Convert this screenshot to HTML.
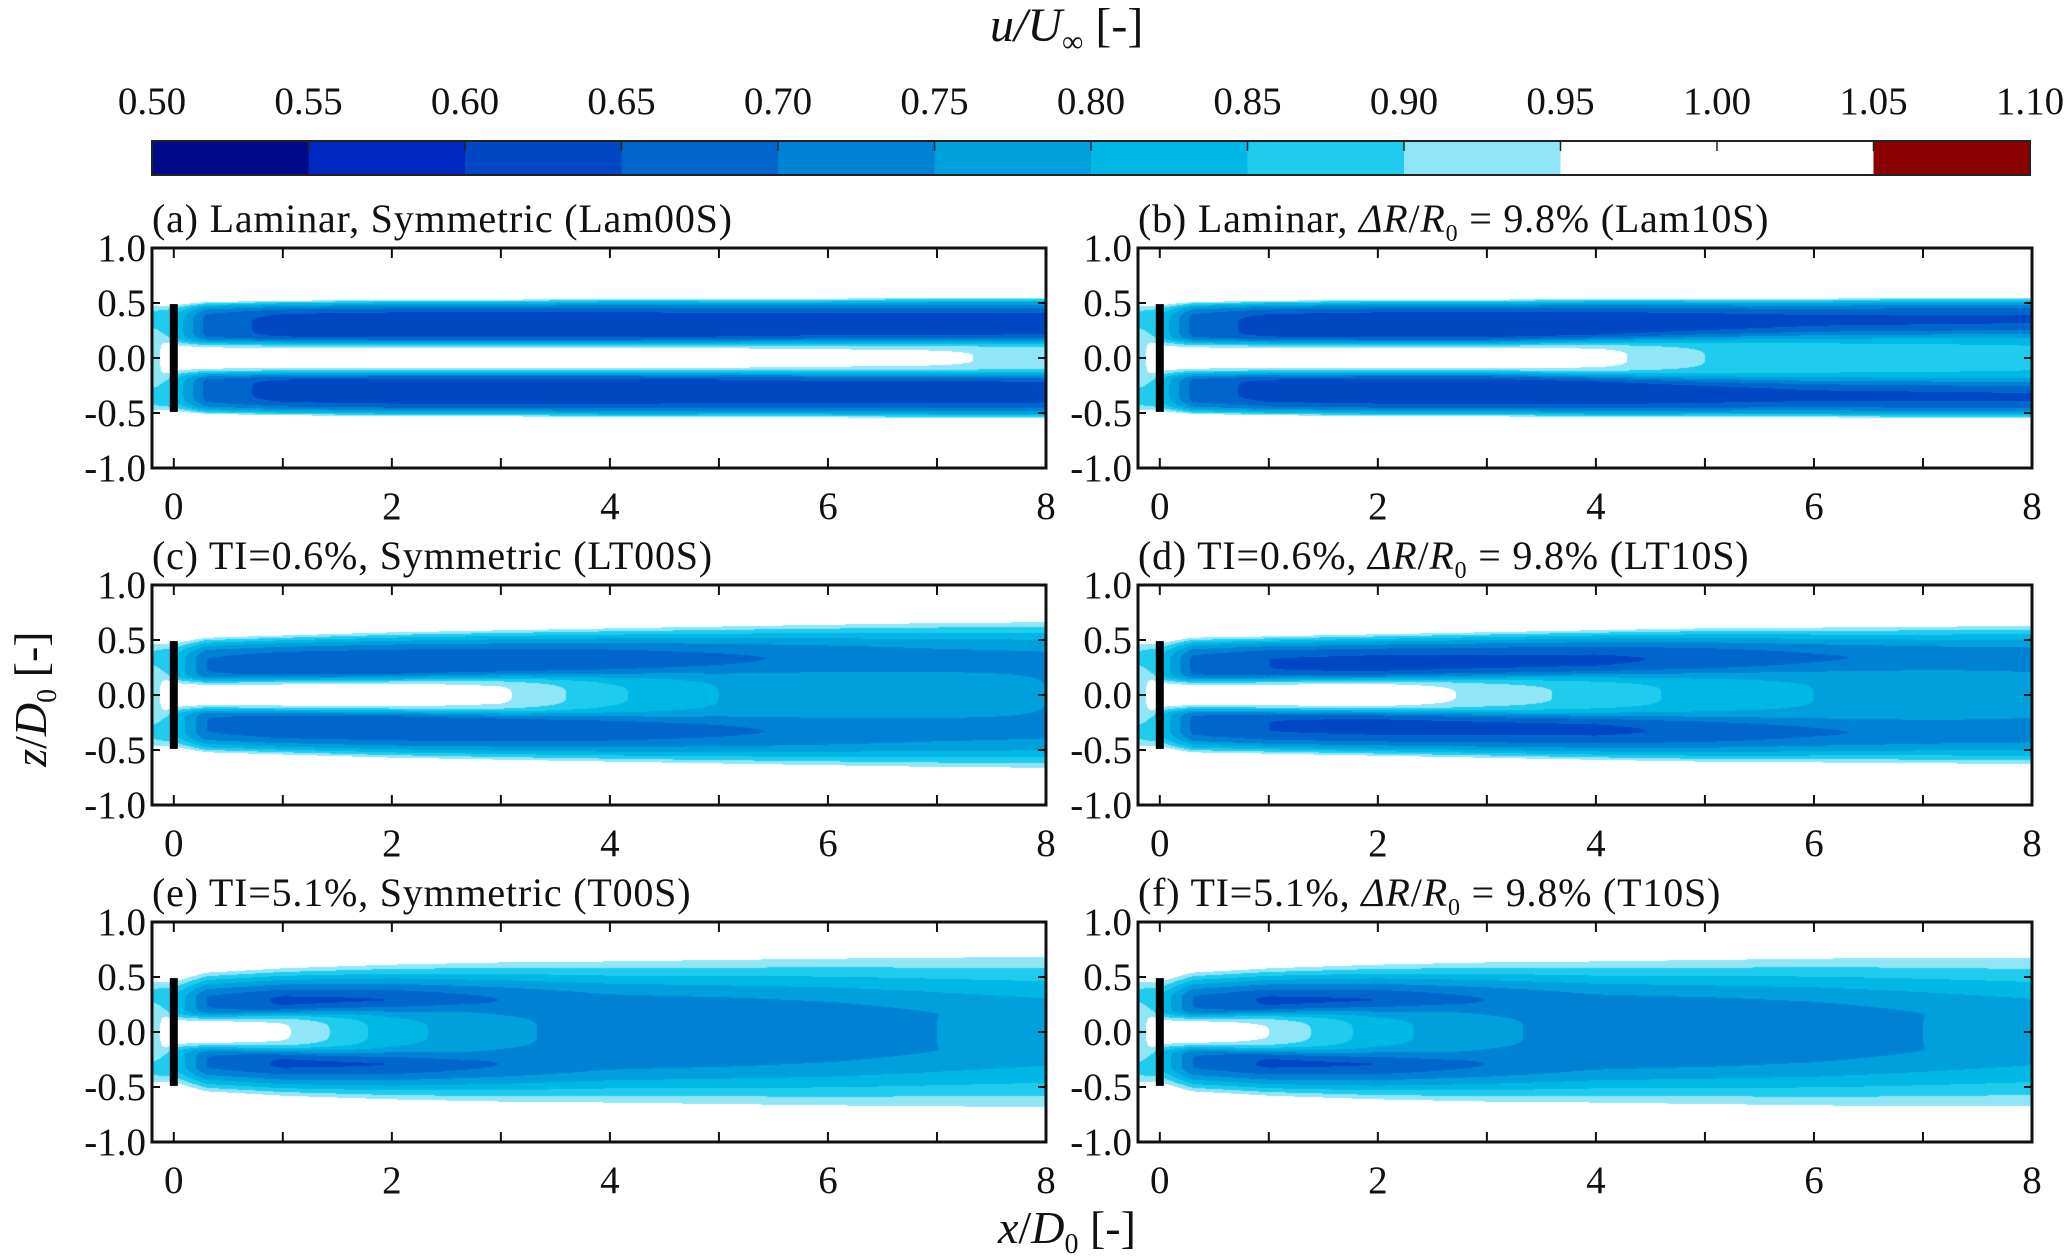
<!DOCTYPE html>
<html><head><meta charset="utf-8"><style>
body{margin:0;background:#fff;width:2067px;height:1259px;position:relative;overflow:hidden;font-family:"Liberation Serif",serif;color:#111}
.t{position:absolute;white-space:nowrap;font-size:39px;line-height:1}
.tt{font-size:40px;letter-spacing:0.8px}
canvas{position:absolute}
svg{position:absolute;left:0;top:0}
</style></head><body>
<div class="t" style="left:990px;top:2px;font-size:48px;font-style:italic"><span style="text-decoration:overline">u</span>/U<sub style="font-size:30px;font-style:normal">∞</sub> <span style="font-style:normal">[-]</span></div>
<div id="root"></div>
<div class="t" style="left:998px;top:1205px;font-size:46px"><i>x</i>/<i>D</i><sub style="font-size:28px">0</sub> [-]</div>
<div class="t" style="left:-50px;top:672px;font-size:46px;transform:rotate(-90deg);transform-origin:center;width:170px;text-align:center"><i>z</i>/<i>D</i><sub style="font-size:28px">0</sub> [-]</div>
<svg id="ov" width="2067" height="1259"></svg>
<script>
const levels=[0.50,0.55,0.60,0.65,0.70,0.75,0.80,0.85,0.90,0.95,1.00,1.05,1.10];
const levelLabels=["0.50","0.55","0.60","0.65","0.70","0.75","0.80","0.85","0.90","0.95","1.00","1.05","1.10"];
const bandColors=["#000a8a","#0028c0","#0047c4","#0066cc","#0082d4","#00a0dc","#00b8e6","#20ccee","#90e6f6","#ffffff","#ffffff","#8b0000"];
const xStations=[-0.2,0,0.3,1,2,3,4,5,6,7,8];
const xTicks=[0,2,4,6,8];
const yTicks=[-1.0,-0.5,0.0,0.5,1.0];
const yTickLabels=["-1.0","-0.5","0.0","0.5","1.0"];
const titles=["(a) Laminar, Symmetric (Lam00S)","(b) Laminar, <i>ΔR</i>/<i>R</i><sub>0</sub> = 9.8% (Lam10S)","(c) TI=0.6%, Symmetric (LT00S)","(d) TI=0.6%, <i>ΔR</i>/<i>R</i><sub>0</sub> = 9.8% (LT10S)","(e) TI=5.1%, Symmetric (T00S)","(f) TI=5.1%, <i>ΔR</i>/<i>R</i><sub>0</sub> = 9.8% (T10S)"];
const uminA=[0.88,0.85,0.68,0.63,0.62,0.62,0.62,0.63,0.63,0.63,0.63];
const ucA=[0.92,1,1,1,1,1,1,0.99,0.97,0.96,0.93];
const cwA=[0.3,0.15,0.15,0.15,0.15,0.15,0.15,0.15,0.16,0.16,0.17];
const edgeA=[0.5,0.5,0.52,0.53,0.54,0.54,0.55,0.55,0.55,0.56,0.56];
const uminB=[0.88,0.85,0.68,0.63,0.62,0.62,0.62,0.63,0.64,0.64,0.64];
const ucB=[0.92,1,1,1,1,1,0.97,0.9,0.88,0.87,0.86];
const cwB=[0.3,0.15,0.15,0.15,0.15,0.15,0.17,0.2,0.22,0.23,0.24];
const edgeB=[0.5,0.5,0.52,0.53,0.54,0.54,0.55,0.55,0.55,0.56,0.56];
const uminC=[0.88,0.85,0.7,0.67,0.66,0.66,0.67,0.69,0.71,0.73,0.74];
const ucC=[0.92,1,1,1,1,0.96,0.86,0.8,0.78,0.76,0.75];
const cwC=[0.3,0.14,0.14,0.15,0.16,0.18,0.2,0.22,0.24,0.26,0.28];
const edgeC=[0.5,0.5,0.54,0.56,0.59,0.61,0.63,0.65,0.67,0.69,0.7];
const uminD=[0.88,0.85,0.69,0.65,0.64,0.64,0.64,0.66,0.69,0.71,0.72];
const ucD=[0.92,1,1,1,1,0.93,0.88,0.83,0.8,0.78,0.76];
const cwD=[0.3,0.14,0.14,0.15,0.16,0.18,0.2,0.22,0.24,0.26,0.28];
const edgeD=[0.5,0.5,0.54,0.55,0.57,0.59,0.61,0.63,0.64,0.65,0.66];
const uminE=[0.88,0.85,0.7,0.64,0.64,0.67,0.7,0.71,0.72,0.74,0.76];
const ucE=[0.92,1,1,0.96,0.82,0.76,0.73,0.72,0.73,0.75,0.77];
const cwE=[0.3,0.14,0.15,0.18,0.22,0.26,0.3,0.32,0.34,0.36,0.38];
const edgeE=[0.5,0.5,0.57,0.61,0.65,0.68,0.7,0.72,0.74,0.76,0.78];
const uminF=[0.88,0.85,0.7,0.64,0.64,0.67,0.7,0.71,0.72,0.74,0.76];
const ucF=[0.92,1,1,0.95,0.82,0.76,0.73,0.72,0.73,0.75,0.77];
const cwF=[0.3,0.14,0.15,0.18,0.22,0.26,0.3,0.32,0.34,0.36,0.38];
const edgeF=[0.5,0.5,0.57,0.61,0.65,0.68,0.7,0.72,0.74,0.76,0.77];
const ringLam=[0.33,0.32,0.32,0.32,0.32,0.32,0.32,0.32,0.32,0.32,0.32];
const ringTur=[0.35,0.32,0.32,0.3,0.28,0.25,0.22,0.2,0.18,0.16,0.15];
const panels=[
 {umin:uminA,uc:ucA,cw:cwA,edge:edgeA,ring:ringLam,q:3},
 {umin:uminB,uc:ucB,cw:cwB,edge:edgeB,ring:ringLam,q:3},
 {umin:uminC,uc:ucC,cw:cwC,edge:edgeC,ring:ringLam,q:2},
 {umin:uminD,uc:ucD,cw:cwD,edge:edgeD,ring:ringLam,q:2},
 {umin:uminE,uc:ucE,cw:cwE,edge:edgeE,ring:ringTur,q:1.4},
 {umin:uminF,uc:ucF,cw:cwF,edge:edgeF,ring:ringTur,q:1.4}];
const colL=[152,1138], W=894, rowT=[248,585,922], H=220;
const XMIN=-0.2,XMAX=8;
const NS='http://www.w3.org/2000/svg';
const ov=document.getElementById('ov'), root=document.getElementById('root');
function mk(tag,at,par){const e=document.createElementNS(NS,tag);for(const k in at)e.setAttribute(k,at[k]);(par||ov).appendChild(e);return e;}
function interp(arr,x){if(x<=xStations[0])return arr[0];for(let i=1;i<xStations.length;i++){if(x<=xStations[i]){const t=(x-xStations[i-1])/(xStations[i]-xStations[i-1]);return arr[i-1]+t*(arr[i]-arr[i-1]);}}return arr[arr.length-1];}
function hex(c){return [parseInt(c.substr(1,2),16),parseInt(c.substr(3,2),16),parseInt(c.substr(5,2),16)];}
const rgb=bandColors.map(hex);
function colorOf(u){for(let i=0;i<bandColors.length;i++){if(u<levels[i+1])return rgb[i];}return rgb[rgb.length-1];}
const cbX=152,cbW=1878,cbY=141,cbH=34,nb=bandColors.length;
const cbx=v=>cbX+(v-levels[0])/(levels[levels.length-1]-levels[0])*cbW;
for(let i=0;i<nb;i++){const r=mk('rect',{x:cbx(levels[i]),y:cbY,width:cbx(levels[i+1])-cbx(levels[i])+0.5,height:cbH,fill:bandColors[i]});}
mk('rect',{x:cbX,y:cbY,width:cbW,height:cbH,fill:'none',stroke:'#222','stroke-width':2});
for(let i=1;i<levels.length-1;i++)mk('line',{x1:cbx(levels[i]),x2:cbx(levels[i]),y1:cbY,y2:cbY+10,stroke:'#222','stroke-width':1.5});
levels.forEach((v,i)=>{const d=document.createElement('div');d.className='t';d.style.left=(cbx(v)-40)+'px';d.style.top='82px';d.style.width='80px';d.style.textAlign='center';d.textContent=levelLabels[i];


root.appendChild(d);});
panels.forEach((P,k)=>{
 const L=colL[k%2],T=rowT[Math.floor(k/2)];
 const sx=x=>L+(x-XMIN)/(XMAX-XMIN)*W, sy=z=>T+(1-z)/2*H;
 const cv=document.createElement('canvas');cv.width=W;cv.height=H;cv.style.left=L+'px';cv.style.top=T+'px';
 
 
 root.appendChild(cv);
 const ctx=cv.getContext('2d'),img=ctx.createImageData(W,H);
 for(let px=0;px<W;px++){
  const x=XMIN+(px+0.5)/W*(XMAX-XMIN);
  const um=interp(P.umin,x),uc=interp(P.uc,x),cw=interp(P.cw,x),e=interp(P.edge,x),r=interp(P.ring,x);
  for(let py=0;py<H;py++){
   const z=Math.abs(1-(py+0.5)/H*2);let u;
   if(z>=e)u=1.0;
   else if(z<r){u=um+(uc-um)*Math.exp(-Math.pow(z/cw,4));}
   else{const t=(z-r)/(e-r);u=um+(1-um)*Math.pow(t,P.q)+(uc-um)*Math.exp(-Math.pow(z/cw,4));}
   const c=colorOf(u),o=(py*W+px)*4;img.data[o]=c[0];img.data[o+1]=c[1];img.data[o+2]=c[2];img.data[o+3]=255;
  }}
 ctx.putImageData(img,0,0);
 const g=mk('g',{});
 
 
 mk('rect',{x:L,y:T,width:W,height:H,fill:'none',stroke:'#111','stroke-width':3},g);
 for(let xv=0;xv<=8;xv++){mk('line',{x1:sx(xv),x2:sx(xv),y1:T,y2:T+10,stroke:'#111','stroke-width':2},g);mk('line',{x1:sx(xv),x2:sx(xv),y1:T+H,y2:T+H-10,stroke:'#111','stroke-width':2},g);}
 [-0.5,0,0.5].forEach(z=>{mk('line',{x1:L,x2:L+8,y1:sy(z),y2:sy(z),stroke:'#111','stroke-width':2},g);mk('line',{x1:L+W,x2:L+W-8,y1:sy(z),y2:sy(z),stroke:'#111','stroke-width':2},g);});
 const bar=mk('rect',{x:sx(0)-4,y:sy(0.49),width:8,height:sy(-0.49)-sy(0.49),fill:'#000'},g);
 
 
 xTicks.forEach(xv=>{const d=document.createElement('div');d.className='t';d.style.left=(sx(xv)-30)+'px';d.style.top=(T+H+19)+'px';d.style.width='60px';d.style.textAlign='center';d.textContent=xv;
 
 
 root.appendChild(d);});
 yTicks.forEach((z,i)=>{const d=document.createElement('div');d.className='t';d.style.left=(L-112)+'px';d.style.top=(sy(z)-19)+'px';d.style.width='106px';d.style.textAlign='right';d.textContent=yTickLabels[i];
 
 
 root.appendChild(d);});
 const tt=document.createElement('div');tt.className='t tt';tt.style.left=L+'px';tt.style.top=(T-49)+'px';tt.innerHTML=titles[k];
 
 
 root.appendChild(tt);
});
document.querySelectorAll('sub').forEach(s=>{if(!s.style.fontSize)s.style.fontSize='24px';});
</script>
</body></html>
